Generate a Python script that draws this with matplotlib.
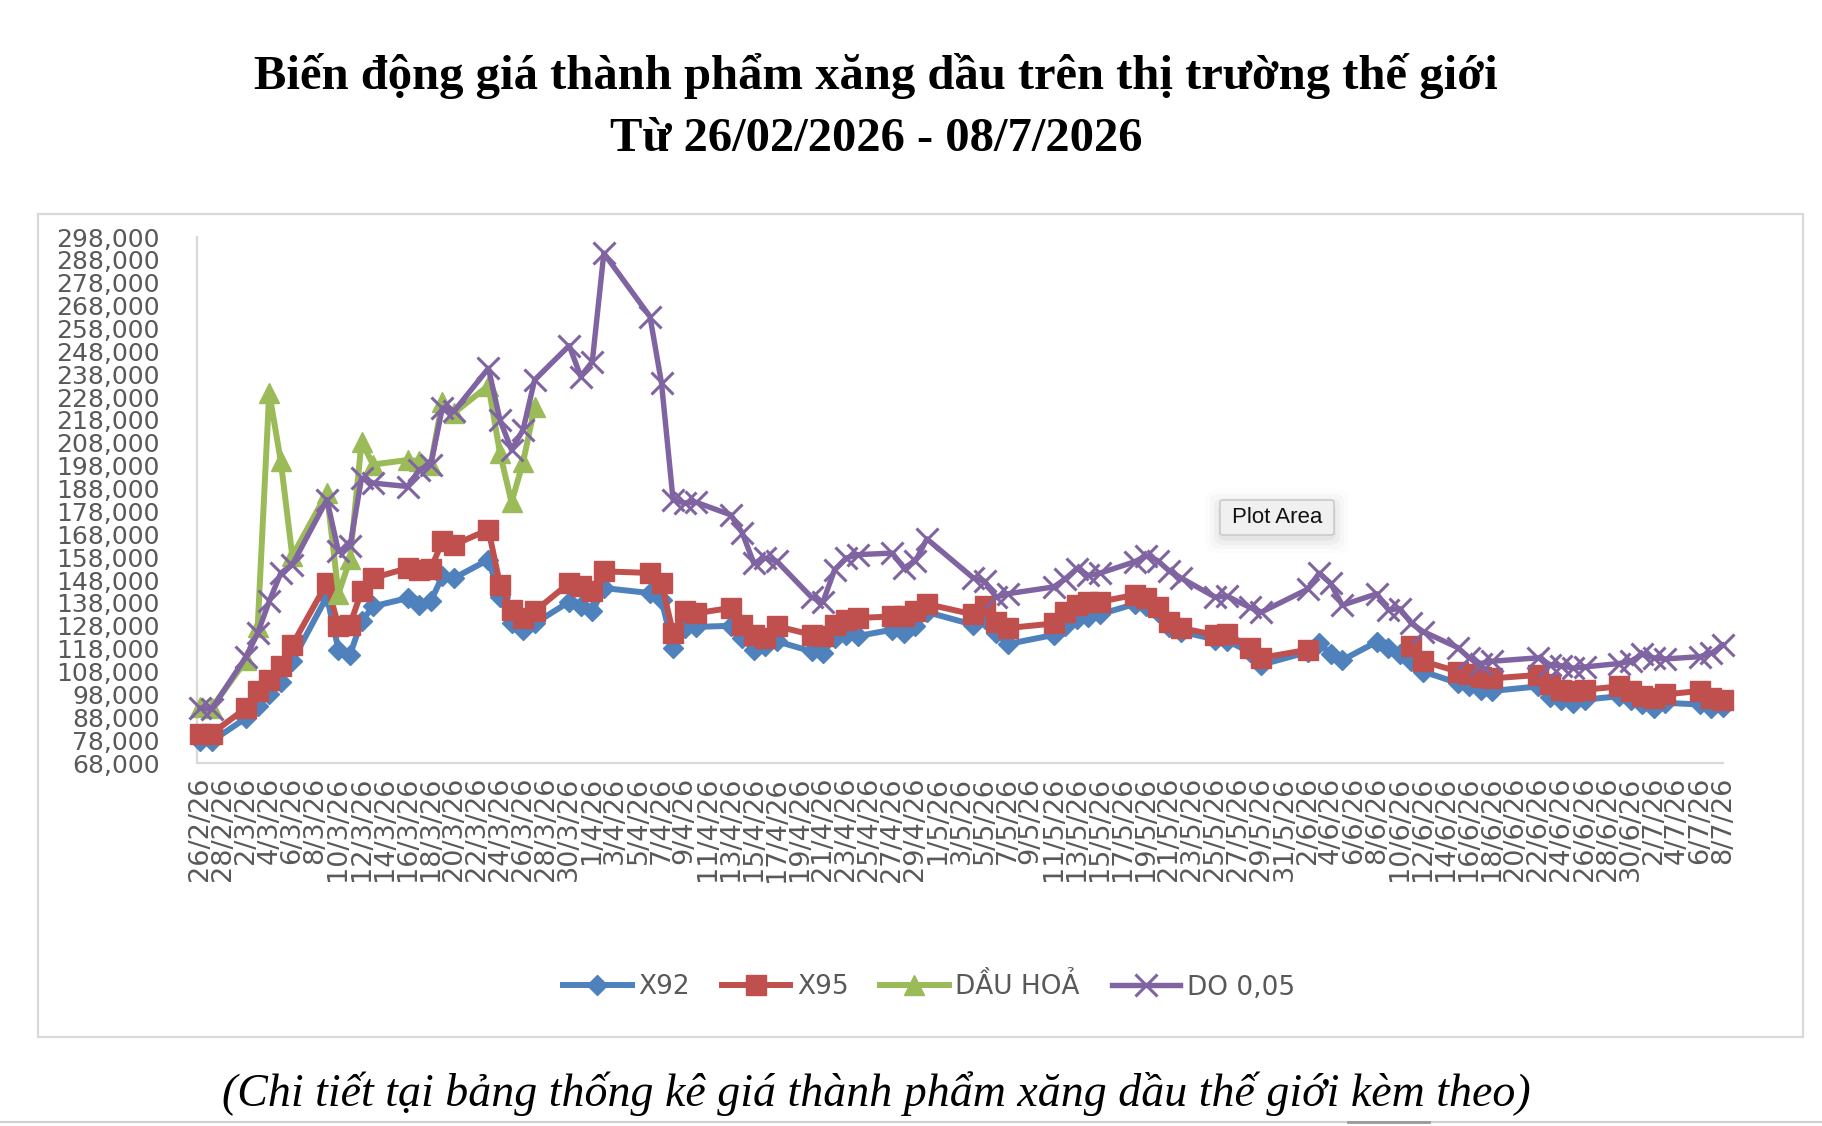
import numpy as np
import matplotlib
matplotlib.use("Agg")
import matplotlib.pyplot as plt
from matplotlib.patches import Rectangle, FancyBboxPatch
from matplotlib.lines import Line2D

# ---- data (VND per unit) ----
DATES = [
    "2026-02-26", "2026-02-27", "2026-03-02", "2026-03-03", "2026-03-04", "2026-03-05", "2026-03-06",
    "2026-03-09", "2026-03-10", "2026-03-11", "2026-03-12", "2026-03-13",
    "2026-03-16", "2026-03-17", "2026-03-18", "2026-03-19", "2026-03-20",
    "2026-03-23", "2026-03-24", "2026-03-25", "2026-03-26", "2026-03-27",
    "2026-03-30", "2026-03-31", "2026-04-01", "2026-04-02",
    "2026-04-06", "2026-04-07", "2026-04-08", "2026-04-09", "2026-04-10",
    "2026-04-13", "2026-04-14", "2026-04-15", "2026-04-16", "2026-04-17",
    "2026-04-20", "2026-04-21", "2026-04-22", "2026-04-23", "2026-04-24",
    "2026-04-27", "2026-04-28", "2026-04-29", "2026-04-30",
    "2026-05-04", "2026-05-05", "2026-05-06", "2026-05-07",
    "2026-05-11", "2026-05-12", "2026-05-13", "2026-05-14", "2026-05-15",
    "2026-05-18", "2026-05-19", "2026-05-20", "2026-05-21", "2026-05-22",
    "2026-05-25", "2026-05-26", "2026-05-28", "2026-05-29",
    "2026-06-02", "2026-06-03", "2026-06-04", "2026-06-05",
    "2026-06-08", "2026-06-09", "2026-06-10", "2026-06-11", "2026-06-12",
    "2026-06-15", "2026-06-16", "2026-06-17", "2026-06-18",
    "2026-06-22", "2026-06-23", "2026-06-24", "2026-06-25", "2026-06-26",
    "2026-06-29", "2026-06-30", "2026-07-01", "2026-07-02", "2026-07-03",
    "2026-07-06", "2026-07-07", "2026-07-08",
]

X92 = [
    77500, 77500, 87700, 93000, 98000, 103500, 112500,
    140800, 117600, 115400, 129900, 136500,
    140100, 137200, 138700, 149600, 148800,
    156900, 140800, 129200, 126000, 129000,
    138500, 136500, 134300, 144500,
    142300, 139400, 118300, 127000, 127500,
    128000, 122700, 117500, 119000, 121200,
    116800, 116300, 122700, 124100, 123500,
    126300, 125000, 127800, 134000,
    128500, 131000, 125000, 120000,
    124000, 128000, 131000, 132000, 133000,
    137500, 136500, 134000, 127500, 125500,
    122000, 121500, 116500, 111000,
    116500, 120500, 115500, 113000,
    121000, 118500, 115500, 112500, 108000,
    103000, 101500, 100000, 99500,
    101500, 97000, 95500, 94300, 95700,
    97200, 95700, 94000, 92100, 94300,
    93600, 92100, 92300,
]

X95 = [
    80800, 80800, 92100, 99400, 104500, 110300, 119700,
    146700, 127700, 128500, 143000, 148900,
    153200, 152500, 152800, 164900, 163400,
    170000, 146000, 135000, 131400, 134300,
    146700, 145200, 143000, 151800,
    151100, 146700, 124900, 134300, 133500,
    135800, 128500, 124100, 122700, 127800,
    124100, 123500, 128500, 130700, 131400,
    132100, 132100, 134300, 137500,
    133000, 136500, 129500, 127000,
    129000, 134000, 137000, 138500, 138500,
    141500, 140000, 136000, 129500, 127000,
    124000, 124500, 118500, 114000,
    117500, None, None, None,
    None, None, None, 119000, 112500,
    108000, 107000, 105500, 105000,
    106500, 102500, 100000, 99500, 100000,
    101500, 99500, 97500, 96500, 98000,
    99500, 96500, 95700,
]

DAU_HOA = [
    92500, 92000, 113000, 127500, 230000, 200000, 158500,
    186000, 142000, 157000, 208500, 198500,
    200500, 200000, 198500, 226000, 221000,
    233000, 203500, 182000, 199500, 223500,
] + [None] * 67

DO_005 = [
    92000, 91500, 114500, 124800, 138700, 151000, 154700,
    183100, 160500, 162700, 192600, 190400,
    188900, 196200, 198400, 223200, 221700,
    240600, 218000, 204900, 213700, 235500,
    250500, 237000, 243500, 290900,
    263200, 234100, 183100, 181700, 182000,
    176500, 168600, 155400, 157600, 156200,
    140500, 138500, 152500, 157600, 159100,
    159800, 153300, 156200, 166000,
    149000, 147500, 140500, 142000,
    145000, 148500, 153000, 150000, 151000,
    156000, 158500, 156500, 152000, 149000,
    140500, 141000, 136000, 134000,
    144000, 151000, 146500, 137000,
    142000, 135000, 135500, 129000, 125500,
    118500, 114000, 111500, 112500,
    114000, 111000, 110500, 109500, 110000,
    111500, 112500, 115500, 114000, 113500,
    114500, 116000, 119500,
]

SERIES = ["X92", "X95", "DẦU HOẢ", "DO 0,05"]
COLORS = ["#4F81BD", "#C0504D", "#9BBB59", "#8064A2"]

TITLE = "Biến động giá thành phẩm xăng dầu trên thị trường thế giới\nTừ 26/02/2026 - 08/7/2026"
CAPTION = "(Chi tiết tại bảng thống kê giá thành phẩm xăng dầu thế giới kèm theo)"

W, H = 1822, 1126
GRAY_TXT = "#595959"
AXIS_GRAY = "#d9d9d9"


def fx(px):
    return px / W


def fy(py):
    return 1 - py / H


start = np.datetime64("2026-02-26")
end = np.datetime64("2026-07-08")
dates = np.array(DATES, dtype="datetime64[D]")
x = (dates - start).astype(int)

fig = plt.figure(figsize=(W / 100, H / 100), dpi=100)

# chart frame
fig.patches.append(Rectangle((fx(38), fy(1037)), fx(1803 - 38), (1037 - 214) / H,
                             transform=fig.transFigure, fill=False,
                             edgecolor=AXIS_GRAY, lw=1.6, zorder=0))

ax = fig.add_axes([fx(197), fy(763), fx(1723 - 197), (763 - 237) / H])
ax.set_facecolor("none")

styles = [
    dict(marker="D", ms=10),
    dict(marker="s", ms=14.5),
    dict(marker="^", ms=15),
    dict(marker="x", ms=16.5, mew=2.2),
]
handles = []
for i, (vals, name, col, st) in enumerate(zip([X92, X95, DAU_HOA, DO_005], SERIES, COLORS, styles)):
    y = np.array(vals, dtype=float)
    lw = 3.9 if i == 3 else 4.3
    kw = dict(color=col, lw=lw, mfc=col, mec=col, clip_on=False, zorder=3 + i,
              solid_joinstyle="round")
    kw.update(st)
    (ln,) = ax.plot(x, y, label=name, **kw)
    handles.append(ln)

total = int((end - start).astype(int))
ax.set_xlim(-0.26, total)
ax.set_ylim(68000, 298000)

tick_dates = np.arange(start, end + 1, np.timedelta64(2, "D"))
ax.set_xticks((tick_dates - start).astype(int))
ax.set_xticklabels([f"{d.day}/{d.month}/{d.year % 100}" for d in tick_dates.astype(object)],
                   rotation=90, fontsize=19.5, color=GRAY_TXT, family="DejaVu Sans",
                   va="top", ha="center")
yt = np.arange(68000, 298001, 10000)
ax.set_yticks(yt)
ax.set_yticklabels([f"{v:,}" for v in yt], fontsize=18, color=GRAY_TXT, family="DejaVu Sans")
ax.tick_params(axis="x", length=0, pad=10)
ax.tick_params(axis="y", length=0, pad=27)

for s in ("top", "right"):
    ax.spines[s].set_visible(False)
for s in ("left", "bottom"):
    ax.spines[s].set_color(AXIS_GRAY)
    ax.spines[s].set_linewidth(1.6)

# legend
fig.legend(handles=handles, labels=SERIES, ncol=4, loc="center",
           bbox_to_anchor=(fx(929), fy(987)), frameon=False, numpoints=1,
           prop={"family": "DejaVu Sans", "size": 19}, labelcolor=GRAY_TXT,
           handlelength=2.6, handletextpad=0.25, columnspacing=1.2)

# titles
fig.text(fx(876), fy(107), TITLE, ha="center", va="center", fontsize=35,
         fontweight="bold", family="Liberation Serif", linespacing=1.52)
fig.text(fx(876), fy(1094), CAPTION, ha="center", va="center", fontsize=33,
         style="italic", family="Liberation Serif")

# "Plot Area" hover tooltip
bx0, by0, bx1, by1 = 1220, 500, 1334, 535
for k, a in enumerate([0.04, 0.03, 0.02, 0.012]):
    g = 2 + 4 * k
    fig.patches.append(FancyBboxPatch((fx(bx0 - g), fy(by1 + g + 4)), fx(bx1 - bx0 + 2 * g),
                                      (by1 - by0 + 2 * g) / H,
                                      boxstyle="round,pad=0,rounding_size=0.006",
                                      transform=fig.transFigure,
                                      facecolor="black", edgecolor="none", alpha=a, zorder=8))
fig.patches.append(FancyBboxPatch((fx(bx0), fy(by1)), fx(bx1 - bx0), (by1 - by0) / H,
                                  boxstyle="round,pad=0,rounding_size=0.002",
                                  transform=fig.transFigure, facecolor="#f0f0f0",
                                  edgecolor="#c4c4c4", lw=1.0, zorder=9))
fig.text(fx((bx0 + bx1) / 2), fy((by0 + by1) / 2), "Plot Area", ha="center", va="center",
         fontsize=16, family="Liberation Sans", color="#111111", zorder=10)

# window edge at the very bottom
fig.add_artist(Line2D([0, 1], [fy(1122), fy(1122)], transform=fig.transFigure,
                      color="#cfcfcf", lw=1.5))
fig.add_artist(Line2D([fx(1348), fx(1429)], [fy(1122), fy(1122)], transform=fig.transFigure,
                      color="#9a9a9a", lw=2))

fig.savefig("out.png", dpi=100)
